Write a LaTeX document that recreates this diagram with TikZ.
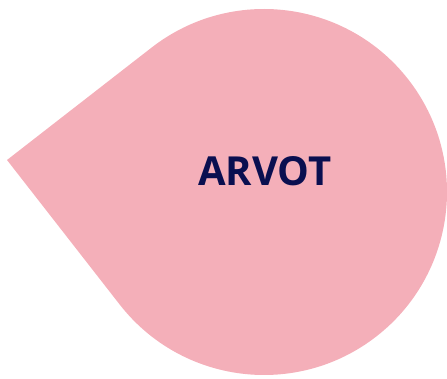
\documentclass[tikz,border=0pt]{standalone}
\usepackage{fontspec}
\setmainfont{Open Sans}
\usetikzlibrary{calc}
\definecolor{droppink}{HTML}{F4AFB9}
\definecolor{navytext}{HTML}{0A0F50}
\begin{document}
\begin{tikzpicture}[x=1pt,y=1pt,
  dropshape/.style={fill=droppink,draw=none},
  titletext/.style={text=navytext,font=\bfseries\fontsize{40}{45}\selectfont,inner sep=0pt}]
\useasboundingbox (0,0) rectangle (447,378);
\coordinate (tip) at (7,218);
\coordinate (ctr) at (264,186);
\path[dropshape] (tip) -- ($(ctr)+(127.86:183)$) arc[start angle=127.86,end angle=-142.06,radius=183] -- cycle;
\node[titletext] (label) at (265,207) {ARVOT};
\end{tikzpicture}
\end{document}
